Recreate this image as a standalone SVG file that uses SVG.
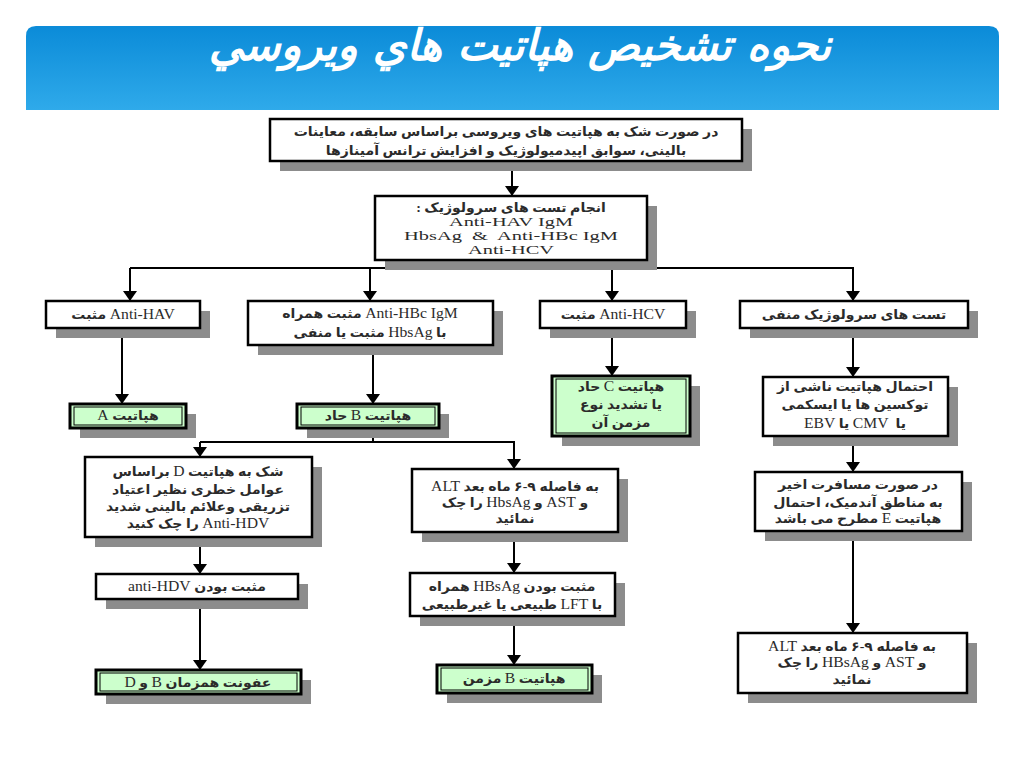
<svg xmlns="http://www.w3.org/2000/svg" width="1024" height="768" viewBox="0 0 1024 768">
<defs>
<linearGradient id="bg" x1="0" y1="0" x2="0" y2="1">
<stop offset="0" stop-color="#0b8bd8"/>
<stop offset="1" stop-color="#2faaea"/>
</linearGradient>
<marker id="arr" viewBox="0 0 10 14" refX="10" refY="7" markerWidth="11" markerHeight="14" markerUnits="userSpaceOnUse" orient="auto">
<path d="M0,0 L10,7 L0,14 z" fill="#000"/>
</marker>
<style>
.box{fill:#fff;stroke:#000;stroke-width:2.5}
.sh{fill:#8c8c8c}
.gbox{fill:#ccffcc;stroke:#000;stroke-width:3}
.gin{fill:none;stroke:#000;stroke-width:1}
.t{font-family:"Liberation Serif","DejaVu Sans",serif;font-size:13px;font-weight:bold;fill:#2b2b2b;text-anchor:middle;direction:rtl;unicode-bidi:embed}
.l{font-weight:normal;font-size:14.5px}
.e{font-family:"Liberation Serif",serif;font-size:13px;fill:#2b2b2b;text-anchor:middle;direction:ltr}
.ln{stroke:#000;stroke-width:2;fill:none}
.ar{marker-end:url(#arr)}
</style>
</defs>
<rect width="1024" height="768" fill="#fff"/>
<g id="title">
<path d="M26,110 L26,36 Q26,26 36,26 L989,26 Q999,26 999,36 L999,110 Z" fill="url(#bg)"/>
<text x="520" y="60" font-family="DejaVu Sans" font-weight="bold" font-style="italic" font-size="43" fill="#fff" text-anchor="middle" direction="rtl">نحوه تشخیص هپاتیت هاي ويروسي</text>
</g>
<g id="connectors">
<line class="ln ar" x1="512" y1="161" x2="512" y2="196"/>
<line class="ln" x1="512" y1="260" x2="512" y2="268"/>
<line class="ln" x1="130" y1="268" x2="854" y2="268"/>
<line class="ln ar" x1="130" y1="268" x2="130" y2="301"/>
<line class="ln ar" x1="370" y1="268" x2="370" y2="301"/>
<line class="ln ar" x1="612" y1="268" x2="612" y2="301"/>
<line class="ln ar" x1="853" y1="268" x2="853" y2="301"/>
<line class="ln ar" x1="122" y1="328" x2="122" y2="404"/>
<line class="ln ar" x1="373" y1="345" x2="373" y2="404"/>
<line class="ln ar" x1="612" y1="328" x2="612" y2="376"/>
<line class="ln ar" x1="853" y1="328" x2="853" y2="377"/>
<line class="ln" x1="373" y1="428" x2="373" y2="442"/>
<line class="ln" x1="200" y1="442" x2="515" y2="442"/>
<line class="ln ar" x1="200" y1="442" x2="200" y2="457"/>
<line class="ln ar" x1="514" y1="442" x2="514" y2="469"/>
<line class="ln ar" x1="200" y1="537" x2="200" y2="574"/>
<line class="ln ar" x1="200" y1="599" x2="200" y2="670"/>
<line class="ln ar" x1="514" y1="532" x2="514" y2="573"/>
<line class="ln ar" x1="514" y1="616" x2="514" y2="665"/>
<line class="ln ar" x1="853" y1="436" x2="853" y2="472"/>
<line class="ln ar" x1="853" y1="531" x2="853" y2="633"/>
</g>
<g id="n1">
<rect class="sh" x="280" y="129" width="472" height="42"/>
<rect class="box" x="270" y="119" width="472" height="42"/>
<text class="t" transform="matrix(1.08,0,0,1,506,0)" x="0" y="136">در صورت شک به هپاتیت های ویروسی براساس سابقه، معاینات</text>
<text class="t" transform="matrix(1.08,0,0,1,506,0)" x="0" y="155">بالینی، سوابق اپیدمیولوژیک و افزایش ترانس آمینازها</text>
</g>
<g id="n2">
<rect class="sh" x="385" y="206" width="272" height="64"/>
<rect class="box" x="375" y="196" width="272" height="64"/>
<text class="t" transform="matrix(1.08,0,0,1,511,0)" x="0" y="212">انجام تست های سرولوژیک :</text>
<text class="e" x="511" y="226" textLength="124" lengthAdjust="spacingAndGlyphs">Anti-HAV IgM</text>
<text class="e" x="511" y="240" textLength="214" lengthAdjust="spacingAndGlyphs" xml:space="preserve">HbsAg  &amp;  Anti-HBc IgM</text>
<text class="e" x="511" y="254" textLength="86" lengthAdjust="spacingAndGlyphs">Anti-HCV</text>
</g>
<g id="n3a">
<rect class="sh" x="56" y="311" width="154" height="27"/>
<rect class="box" x="46" y="301" width="154" height="27"/>
<text class="t" transform="matrix(1.08,0,0,1,123,0)" x="0" y="319"><tspan class="l">Anti-HAV</tspan> مثبت</text>
</g>
<g id="n3b">
<rect class="sh" x="258" y="311" width="245" height="44"/>
<rect class="box" x="248" y="301" width="245" height="44"/>
<text class="t" transform="matrix(1.08,0,0,1,370,0)" x="0" y="318"><tspan class="l">Anti-HBc  IgM</tspan> مثبت همراه</text>
<text class="t" transform="matrix(1.08,0,0,1,370,0)" x="0" y="337">با <tspan class="l">HbsAg</tspan> مثبت یا منفی</text>
</g>
<g id="n3c">
<rect class="sh" x="550" y="311" width="146" height="27"/>
<rect class="box" x="540" y="301" width="146" height="27"/>
<text class="t" transform="matrix(1.08,0,0,1,613,0)" x="0" y="319"><tspan class="l">Anti-HCV</tspan> مثبت</text>
</g>
<g id="n3d">
<rect class="sh" x="750" y="311" width="228" height="27"/>
<rect class="box" x="740" y="301" width="228" height="27"/>
<text class="t" transform="matrix(1.08,0,0,1,854,0)" x="0" y="319">تست های سرولوژیک منفی</text>
</g>
<g id="n4a">
<rect class="sh" x="80" y="414" width="116" height="24"/>
<rect class="gbox" x="70" y="404" width="116" height="24"/>
<rect class="gin" x="74" y="407" width="108" height="18"/>
<text class="t" transform="matrix(1.08,0,0,1,128,0)" x="0" y="420">هپاتیت <tspan class="l">A</tspan></text>
</g>
<g id="n4b">
<rect class="sh" x="307" y="414" width="142" height="24"/>
<rect class="gbox" x="297" y="404" width="142" height="24"/>
<rect class="gin" x="301" y="407" width="134" height="18"/>
<text class="t" transform="matrix(1.08,0,0,1,368,0)" x="0" y="420">هپاتیت <tspan class="l">B</tspan> حاد</text>
</g>
<g id="n4c">
<rect class="sh" x="562" y="386" width="138" height="60"/>
<rect class="gbox" x="552" y="376" width="138" height="60"/>
<rect class="gin" x="556" y="379" width="130" height="54"/>
<text class="t" transform="matrix(1.08,0,0,1,621,0)" x="0" y="391">هپاتیت <tspan class="l">C</tspan> حاد</text>
<text class="t" transform="matrix(1.08,0,0,1,621,0)" x="0" y="409">یا تشدید نوع</text>
<text class="t" transform="matrix(1.08,0,0,1,621,0)" x="0" y="427">مزمن آن</text>
</g>
<g id="n4d">
<rect class="sh" x="773" y="387" width="185" height="59"/>
<rect class="box" x="763" y="377" width="185" height="59"/>
<text class="t" transform="matrix(1.08,0,0,1,855,0)" x="0" y="391">احتمال هپاتیت ناشی از</text>
<text class="t" transform="matrix(1.08,0,0,1,855,0)" x="0" y="409">توکسین ها یا ایسکمی</text>
<text class="t" transform="matrix(1.08,0,0,1,855,0)" x="0" y="428" xml:space="preserve">یا  <tspan class="l">CMV</tspan> یا <tspan class="l">EBV</tspan></text>
</g>
<g id="n5a">
<rect class="sh" x="95" y="467" width="227" height="80"/>
<rect class="box" x="85" y="457" width="227" height="80"/>
<text class="t" transform="matrix(1.08,0,0,1,198,0)" x="0" y="476">شک به هپاتیت <tspan class="l">D</tspan> براساس</text>
<text class="t" transform="matrix(1.08,0,0,1,198,0)" x="0" y="494">عوامل خطری نظیر اعتیاد</text>
<text class="t" transform="matrix(1.08,0,0,1,198,0)" x="0" y="511">تزریقی وعلائم بالینی شدید</text>
<text class="t" transform="matrix(1.08,0,0,1,198,0)" x="0" y="528"><tspan class="l">Anti-HDV</tspan> را چک کنید</text>
</g>
<g id="n5b">
<rect class="sh" x="422" y="479" width="206" height="63"/>
<rect class="box" x="412" y="469" width="206" height="63"/>
<text class="t" transform="matrix(1.08,0,0,1,515,0)" x="0" y="491">به فاصله ۹-۶ ماه بعد <tspan class="l">ALT</tspan></text>
<text class="t" transform="matrix(1.08,0,0,1,515,0)" x="0" y="507">و <tspan class="l">AST</tspan> و <tspan class="l">HbsAg</tspan> را چک</text>
<text class="t" transform="matrix(1.08,0,0,1,515,0)" x="0" y="523">نمائید</text>
</g>
<g id="n5c">
<rect class="sh" x="765" y="482" width="207" height="59"/>
<rect class="box" x="755" y="472" width="207" height="59"/>
<text class="t" transform="matrix(1.08,0,0,1,858,0)" x="0" y="489">در صورت مسافرت اخیر</text>
<text class="t" transform="matrix(1.08,0,0,1,858,0)" x="0" y="507">به مناطق آندمیک، احتمال</text>
<text class="t" transform="matrix(1.08,0,0,1,858,0)" x="0" y="523">هپاتیت <tspan class="l">E</tspan> مطرح می باشد</text>
</g>
<g id="n6a">
<rect class="sh" x="106" y="584" width="202" height="25"/>
<rect class="box" x="96" y="574" width="202" height="25"/>
<text class="t" transform="matrix(1.08,0,0,1,197,0)" x="0" y="591">مثبت بودن <tspan class="l">anti-HDV</tspan></text>
</g>
<g id="n6b">
<rect class="sh" x="420" y="583" width="205" height="43"/>
<rect class="box" x="410" y="573" width="205" height="43"/>
<text class="t" transform="matrix(1.08,0,0,1,512,0)" x="0" y="591">مثبت بودن <tspan class="l">HBsAg</tspan> همراه</text>
<text class="t" transform="matrix(1.08,0,0,1,512,0)" x="0" y="609">با <tspan class="l">LFT</tspan> طبیعی یا غیرطبیعی</text>
</g>
<g id="n7a">
<rect class="sh" x="106" y="680" width="205" height="24"/>
<rect class="gbox" x="96" y="670" width="205" height="24"/>
<rect class="gin" x="100" y="673" width="197" height="18"/>
<text class="t" transform="matrix(1.08,0,0,1,198,0)" x="0" y="687">عفونت همزمان <tspan class="l">B</tspan> و <tspan class="l">D</tspan></text>
</g>
<g id="n7b">
<rect class="sh" x="447" y="675" width="155" height="28"/>
<rect class="gbox" x="437" y="665" width="155" height="28"/>
<rect class="gin" x="441" y="668" width="147" height="22"/>
<text class="t" transform="matrix(1.08,0,0,1,514,0)" x="0" y="683">هپاتیت <tspan class="l">B</tspan> مزمن</text>
</g>
<g id="n7c">
<rect class="sh" x="748" y="643" width="229" height="60"/>
<rect class="box" x="738" y="633" width="229" height="60"/>
<text class="t" transform="matrix(1.08,0,0,1,852,0)" x="0" y="651">به فاصله ۹-۶ ماه بعد <tspan class="l">ALT</tspan></text>
<text class="t" transform="matrix(1.08,0,0,1,852,0)" x="0" y="667">و <tspan class="l">AST</tspan> و <tspan class="l">HBsAg</tspan> را چک</text>
<text class="t" transform="matrix(1.08,0,0,1,852,0)" x="0" y="684">نمائید</text>
</g>
</svg>
